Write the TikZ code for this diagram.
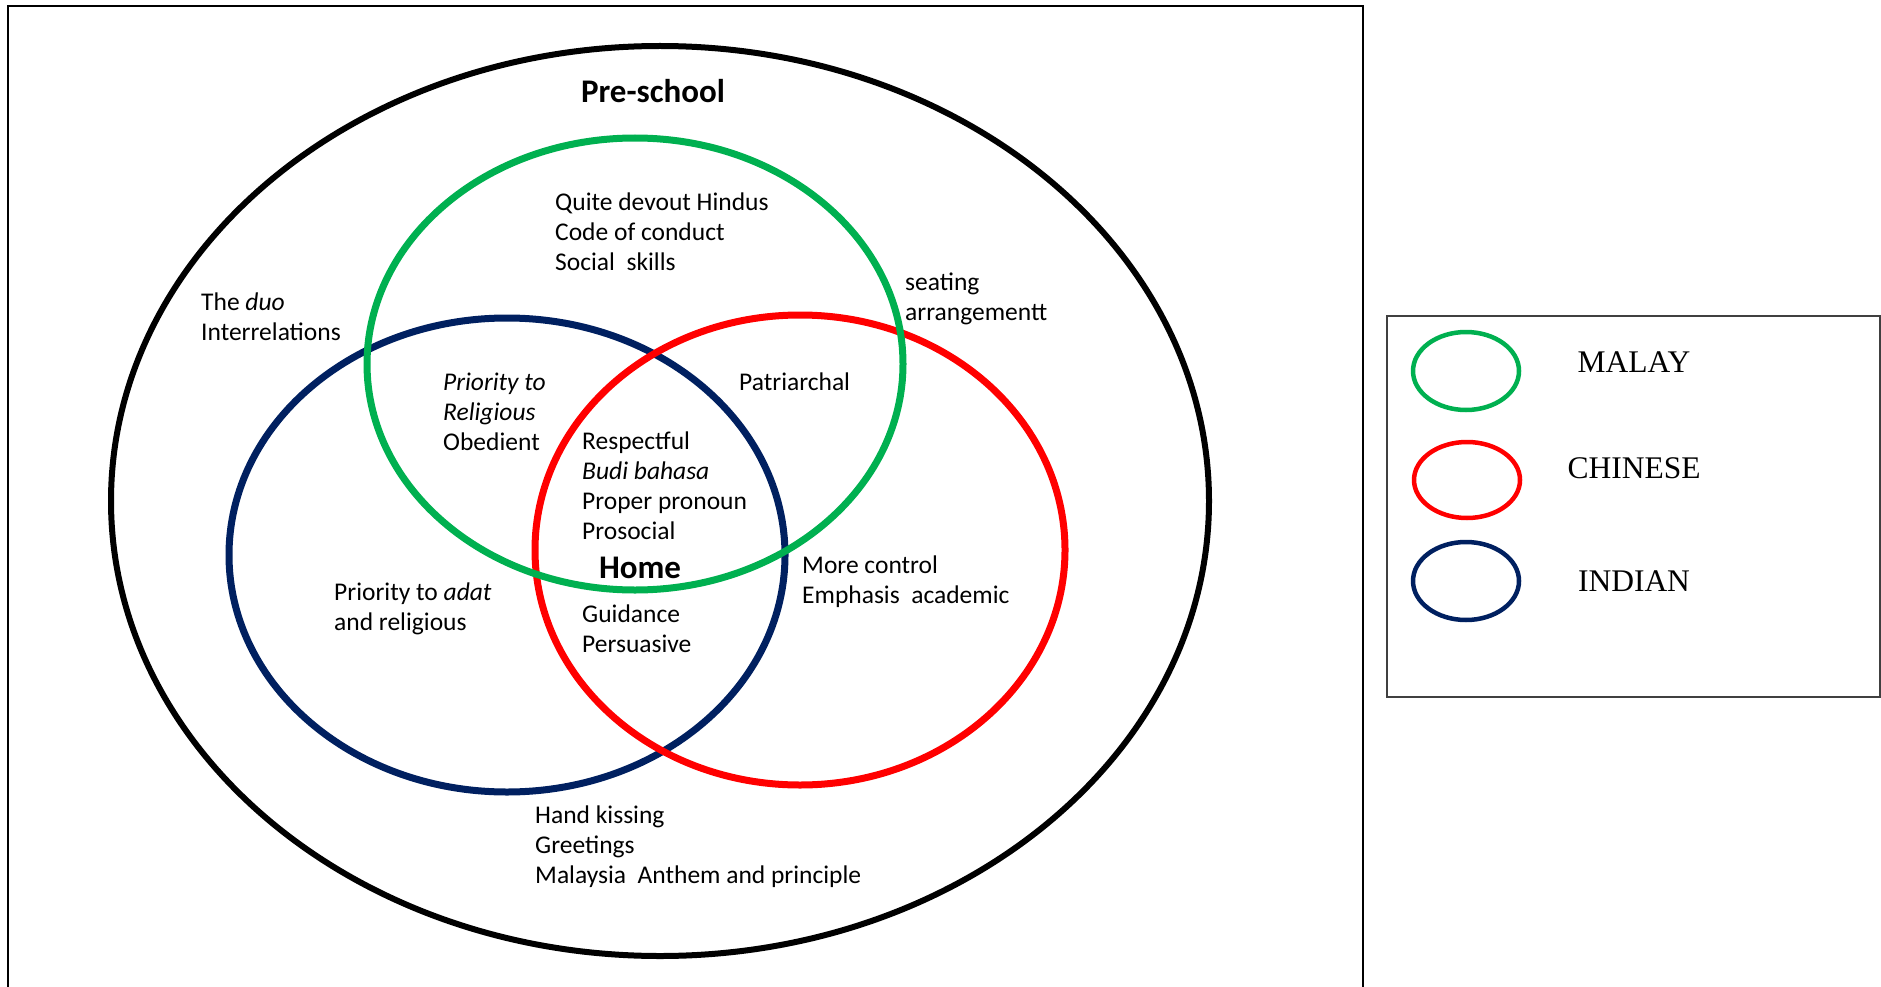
\documentclass[tikz,border=0pt]{standalone}
\usepackage{fontspec}
\setmainfont{Carlito}
\newfontfamily\legendfont{Liberation Serif}
\definecolor{malay}{RGB}{0,176,80}
\definecolor{chinese}{RGB}{255,0,0}
\definecolor{indian}{RGB}{0,32,96}
\tikzset{
  ring/.style={line width=7pt},
  outerring/.style={line width=6pt, black},
  legring/.style={line width=4.5pt},
  lbl/.style={font=\fontsize{25.5}{30}\selectfont, align=left, anchor=west, inner sep=0pt},
  heading/.style={font=\bfseries\fontsize{33}{40}\selectfont, inner sep=0pt},
  legtext/.style={font=\legendfont\fontsize{31.5}{38}\selectfont, inner sep=0pt}
}
\begin{document}
\begin{tikzpicture}[x=1pt, y=-1pt]
  \useasboundingbox (0,0) rectangle (1881,987);
  \clip (0,0) rectangle (1881,987);

  % frame around the Venn diagram (open at the bottom of the page)
  \draw[line width=2pt] (8,1000) -- (8,6) -- (1363,6) -- (1363,1000);

  % pre-school and the three communities
  \draw[outerring] (660,501) ellipse [x radius=549pt, y radius=455pt];
  \draw[ring, indian]  (507,555) ellipse [x radius=278pt, y radius=237pt];
  \draw[ring, chinese] (800,550) ellipse [x radius=265pt, y radius=235pt];
  \draw[ring, malay]   (635,364) ellipse [x radius=268pt, y radius=226pt];

  \node[heading] (preschool) at (653,91) {Pre-school};
  \node[heading] (home) at (640,568) {Home};

  \node[lbl] (malaytop) at (555,232) {Quite devout Hindus\\Code of conduct\\Social\ \ skills};
  \node[lbl] (duo) at (201,317) {The \textit{duo}\\Interrelations};
  \node[lbl] (seating) at (905,299) {seating\\arrangementt};
  \node[lbl] (patriarchal) at (739,382) {Patriarchal};
  \node[lbl] (priority) at (443,412) {\textit{Priority to}\\\textit{Religious}\\Obedient};
  \node[lbl] (respect) at (582,486) {Respectful\\\textit{Budi bahasa}\\Proper pronoun\\Prosocial};
  \node[lbl] (adat) at (334,609) {Priority to \textit{adat}\\and religious};
  \node[lbl] (guidance) at (582,629) {Guidance\\Persuasive};
  \node[lbl] (control) at (802,582) {More control\\Emphasis\ \ academic};
  \node[lbl] (greetings) at (535,847) {Hand kissing\\Greetings\\Malaysia\ \ Anthem and principle};

  % legend
  \draw[line width=2pt, black!75] (1387,316) rectangle (1880,697);
  \draw[legring, malay]   (1466,371) ellipse [x radius=53pt, y radius=39pt];
  \draw[legring, chinese] (1467,480) ellipse [x radius=53pt, y radius=38pt];
  \draw[legring, indian]  (1466,581) ellipse [x radius=53pt, y radius=39pt];
  \node[legtext] (lmalay) at (1634,362) {MALAY};
  \node[legtext] (lchinese) at (1634,468) {CHINESE};
  \node[legtext] (lindian) at (1634,581) {INDIAN};
\end{tikzpicture}
\end{document}
